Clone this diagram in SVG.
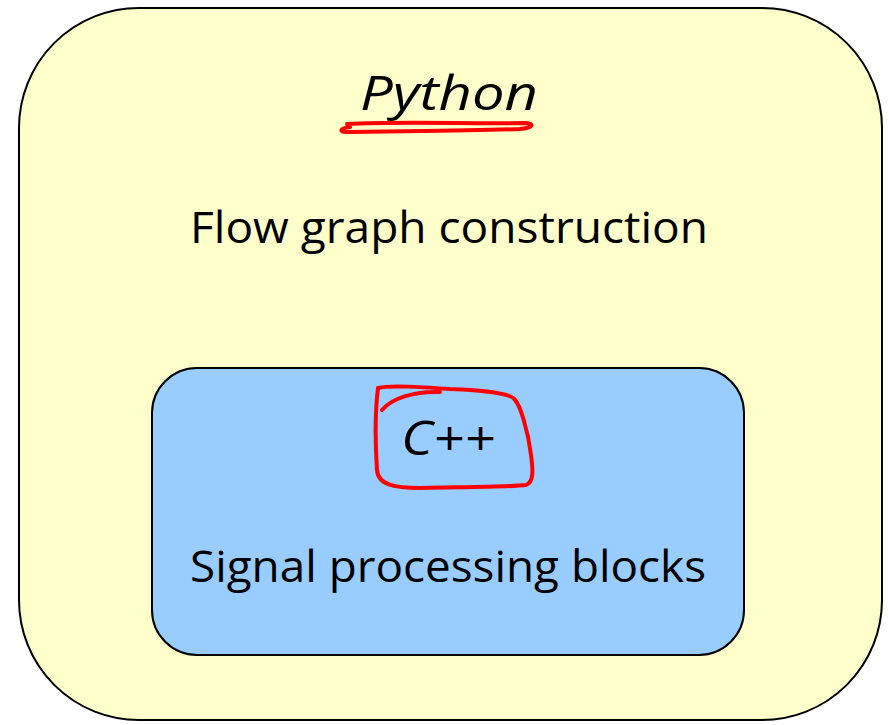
<svg xmlns="http://www.w3.org/2000/svg" width="889" height="725" viewBox="0 0 889 725">
<style>
.box{stroke:#000;stroke-width:2}
.t{font-family:"Open Sans","Liberation Sans",sans-serif;fill:#000;text-anchor:middle}
.ink{fill:none;stroke:#f00;stroke-width:4;stroke-linecap:round;stroke-linejoin:round}
</style>
<rect width="889" height="725" fill="#fff"/>
<g id="python">
<rect class="box" x="19" y="8" width="863" height="712" rx="120" ry="120" fill="#ffffcc"/>
<text class="t" x="449" y="110" font-size="48" font-style="italic" textLength="178" lengthAdjust="spacingAndGlyphs">Python</text>
<text class="t" x="449" y="243" font-size="44" textLength="518" lengthAdjust="spacingAndGlyphs">Flow graph construction</text>
</g>
<g id="cpp">
<rect class="box" x="152" y="368" width="592" height="287" rx="45" ry="45" fill="#99ccff"/>
<text class="t" x="448" y="455" font-size="48" font-style="italic" textLength="94" lengthAdjust="spacingAndGlyphs">C++</text>
<text class="t" x="448" y="582" font-size="44" textLength="516" lengthAdjust="spacingAndGlyphs">Signal processing blocks</text>
</g>
<g id="annotations">
<path class="ink" d="M347,124 C400,121 470,124 527,123 C535,124 532,128 520,129 C470,131 400,131 345,132 C338,131 342,128 350,127"/>
<path class="ink" d="M378,388 C374,420 376,455 377,470 C378,485 395,488 420,488 C470,487 510,487 526,485 C534,482 533,470 531,455 C528,430 520,405 515,400 C512,393 480,390 450,389 C420,387 390,385 378,388"/>
<path class="ink" d="M382,410 C392,398 415,391 440,392"/>
</g>
</svg>
